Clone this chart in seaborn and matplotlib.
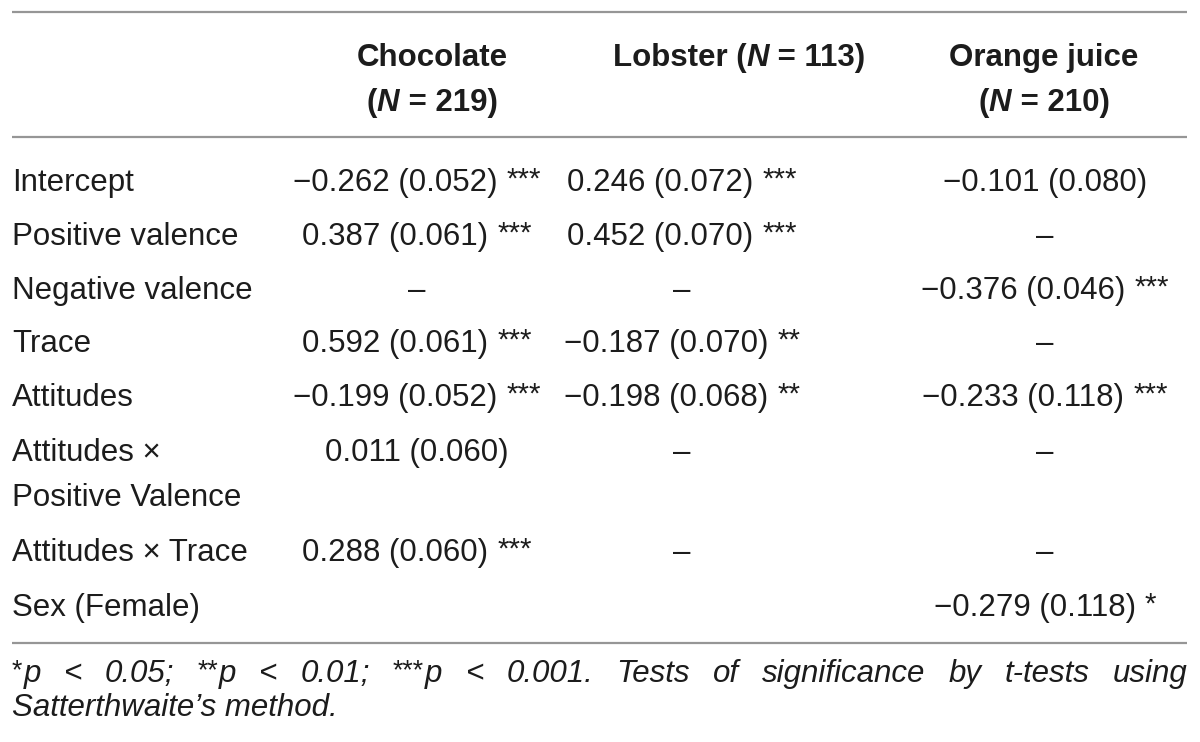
import matplotlib
matplotlib.use("Agg")
import matplotlib.pyplot as plt
import seaborn as sns

# ─── Data ─────────────────────────────────────────────────────────────────────
headers    = [["Chocolate", "(N = 219)"], ["Lobster (N = 113)"], ["Orange juice", "(N = 210)"]]
row_labels = ["Intercept", "Positive valence", "Negative valence", "Trace", "Attitudes",
              "Attitudes \u00d7\nPositive Valence", "Attitudes \u00d7 Trace", "Sex (Female)"]

# None -> dash, "" -> empty cell
choc_est  = [-0.262, 0.387, None, 0.592, -0.199, 0.011, 0.288, ""]
choc_se   = [0.052, 0.061, None, 0.061, 0.052, 0.060, 0.060, ""]
choc_sig  = ["***", "***", "", "***", "***", "", "***", ""]

lob_est   = [0.246, 0.452, None, -0.187, -0.198, None, None, ""]
lob_se    = [0.072, 0.070, None, 0.070, 0.068, None, None, ""]
lob_sig   = ["***", "***", "", "**", "**", "", "", ""]

oj_est    = [-0.101, None, -0.376, None, -0.233, None, None, -0.279]
oj_se     = [0.080, None, 0.046, None, 0.118, None, None, 0.118]
oj_sig    = ["", "", "***", "", "***", "", "", "*"]

note_line1 = ["*p", "<", "0.05;", "**p", "<", "0.01;", "***p", "<", "0.001.", "Tests", "of",
              "significance", "by", "t-tests", "using"]
note_line2 = "Satterthwaite\u2019s method."

# ─── Layout (pixels) ──────────────────────────────────────────────────────────
W, H        = 1200, 742
LEFT, RIGHT = 12, 1187
RULES       = [12, 137, 643]
HEAD_X      = [432, 739, 1044]
HEAD_Y      = [66, 111]
COL_X       = [417, 682, 1045]
ROW_Y       = [191, 245, 299, 352, 406, 461, 561, 616]
LINE_STEP   = 45
NOTE_Y      = [682, 716]
FONT        = ["Liberation Sans", "DejaVu Sans"]
BODY_SIZE   = 22.5
NOTE_SIZE   = 22.5
INK         = "#1c1c1c"
RULE_COLOR  = "#969696"

sns.set_theme(style="white")
plt.rcParams["font.family"] = FONT

fig = plt.figure(figsize=(W / 100, H / 100), dpi=100)
ax = fig.add_axes([0, 0, 1, 1])
ax.set_xlim(0, W)
ax.set_ylim(H, 0)
ax.axis("off")
renderer = fig.canvas.get_renderer()


def draw_runs(x, y, runs, ha="left"):
    """Draw (text, props, dy, gap_before) pieces side by side; return artists, width."""
    arts = []
    for txt, props, dy, gap in runs:
        t = ax.text(0, y + dy, txt, va="baseline", ha="left", color=INK, **props)
        arts.append((t, gap))
    widths = [t.get_window_extent(renderer).width for t, _ in arts]
    total = sum(widths) + sum(g for _, g in arts)
    pos = x - total / 2 if ha == "center" else x
    for (t, gap), w in zip(arts, widths):
        pos += gap
        t.set_x(pos)
        pos += w
    return [t for t, _ in arts], total


def fmt(v):
    return ("\u2212" if v < 0 else "") + f"{abs(v):.3f}"


def cell_runs(est, se, sig):
    if est is None:
        return [("\u2013", dict(fontsize=BODY_SIZE), 0, 0)]
    runs = [(f"{fmt(est)} ({se:.3f})", dict(fontsize=BODY_SIZE), 0, 0)]
    if sig:
        runs.append((sig, dict(fontsize=BODY_SIZE * 0.95), -3, 9))
    return runs


# rules
ax.hlines(RULES, LEFT, RIGHT, color=RULE_COLOR, lw=1.6)

# header
bold = dict(fontsize=BODY_SIZE, fontweight="bold")
bold_it = dict(fontsize=BODY_SIZE, fontweight="bold", fontstyle="italic")
for hx, lines in zip(HEAD_X, headers):
    for k, line in enumerate(lines):
        pre, _, post = line.partition("N")
        if post:
            runs = [(pre, bold, 0, 0), ("N", bold_it, 0, 0), (post, bold, 0, 0)]
        else:
            runs = [(line, bold, 0, 0)]
        draw_runs(hx, HEAD_Y[k], runs, ha="center")

# body
columns = [(choc_est, choc_se, choc_sig), (lob_est, lob_se, lob_sig), (oj_est, oj_se, oj_sig)]
for i, label in enumerate(row_labels):
    for k, line in enumerate(label.split("\n")):
        ax.text(LEFT, ROW_Y[i] + k * LINE_STEP, line, fontsize=BODY_SIZE,
                va="baseline", ha="left", color=INK)
    for cx, (est, se, sig) in zip(COL_X, columns):
        if est[i] == "":
            continue
        draw_runs(cx, ROW_Y[i], cell_runs(est[i], se[i], sig[i]), ha="center")

# footnote, first line justified
note_props = dict(fontsize=NOTE_SIZE, fontstyle="italic")
sup_props = dict(fontsize=NOTE_SIZE * 0.85, fontstyle="normal")


def word_runs(word):
    stars = len(word) - len(word.lstrip("*"))
    runs = []
    if stars:
        runs.append(("*" * stars, sup_props, -4, 0))
    runs.append((word[stars:], note_props, 0, 1 if stars else 0))
    return runs


widths = []
for w in note_line1:
    arts, wd = draw_runs(0, NOTE_Y[0], word_runs(w))
    widths.append(wd)
    for a in arts:
        a.remove()
gap = (RIGHT - LEFT - sum(widths)) / (len(note_line1) - 1)
x = LEFT
for w, wd in zip(note_line1, widths):
    draw_runs(x, NOTE_Y[0], word_runs(w))
    x += wd + gap
ax.text(LEFT, NOTE_Y[1], note_line2, va="baseline", ha="left", color=INK, **note_props)

fig.savefig("out.png", dpi=100)
